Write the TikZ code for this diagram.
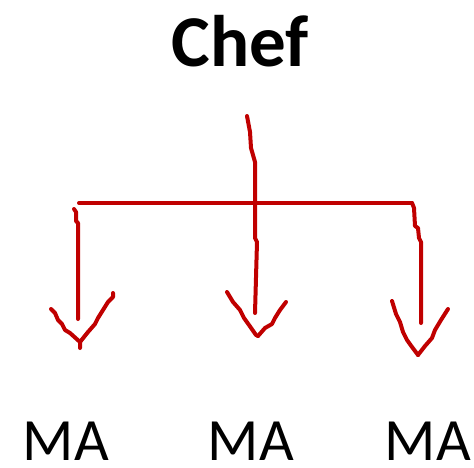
\documentclass[tikz,border=0pt]{standalone}
\usepackage{fontspec}
\setmainfont{Carlito}
\usepackage{tikz}
\usetikzlibrary{positioning}
\definecolor{rojo}{RGB}{192, 0, 0}
\tikzset{
    jefe/.style={anchor=base, inner sep=0pt, font=\fontsize{73}{80}\selectfont\bfseries},
    ma/.style={anchor=base, inner sep=0pt, font=\fontsize{60}{70}\selectfont},
    trazo/.style={rojo, line width=4pt, line cap=round, line join=round},
}
\begin{document}
\begin{tikzpicture}[x=1pt, y=-1pt]
    \useasboundingbox (0,0) rectangle (474,468);

    \node [jefe] (chef) at (240, 67) {Chef};
    \node [ma] (ma1) at (66, 460) {MA};
    \node [ma] (ma2) at (251, 460) {MA};
    \node [ma] (ma3) at (428, 460) {MA};

    % stem and bar
    \coordinate (top) at (247, 116);
    \coordinate (barL) at (79, 203);
    \coordinate (barR) at (412, 203);
    \coordinate (tip1) at (78, 319);
    \coordinate (tip2) at (255, 313);
    \coordinate (tip3) at (421, 323);

    \draw[trazo] (top) -- (250, 132) -- (251, 148) -- (255, 162) -- (255, 202) -- (255, 238) -- (257, 242) -- (tip2);
    \draw[trazo] (barL) -- (barR);

    % branches
    \draw[trazo] (74, 209) -- (76, 212) -- (76, 221) -- (78, 223) -- (tip1);
    \draw[trazo] (barR) -- (414, 208) -- (415, 226) -- (418, 228) -- (419, 238) -- (421, 242) -- (tip3);

    % heads
    \draw[trazo] (51, 309) -- (55, 313) -- (58, 320) -- (62, 324) -- (65, 330) -- (70, 333) -- (80, 342) -- (80, 348);
    \draw[trazo] (80, 342) -- (88, 332) -- (95, 324) -- (98, 318) -- (108, 302) -- (113, 297) -- (113, 293);
    \draw[trazo] (227, 292) -- (233, 302) -- (240, 310) -- (244, 318) -- (249, 325) -- (256, 335) -- (258, 336);
    \draw[trazo] (258, 336) -- (265, 328) -- (272, 324) -- (275, 318) -- (280, 310) -- (286, 302);
    \draw[trazo] (392, 301) -- (396, 314) -- (400, 322) -- (403, 332) -- (407, 340) -- (412, 347) -- (418, 355);
    \draw[trazo] (418, 355) -- (425, 346) -- (432, 338) -- (435, 330) -- (441, 320) -- (448, 309);
\end{tikzpicture}
\end{document}
